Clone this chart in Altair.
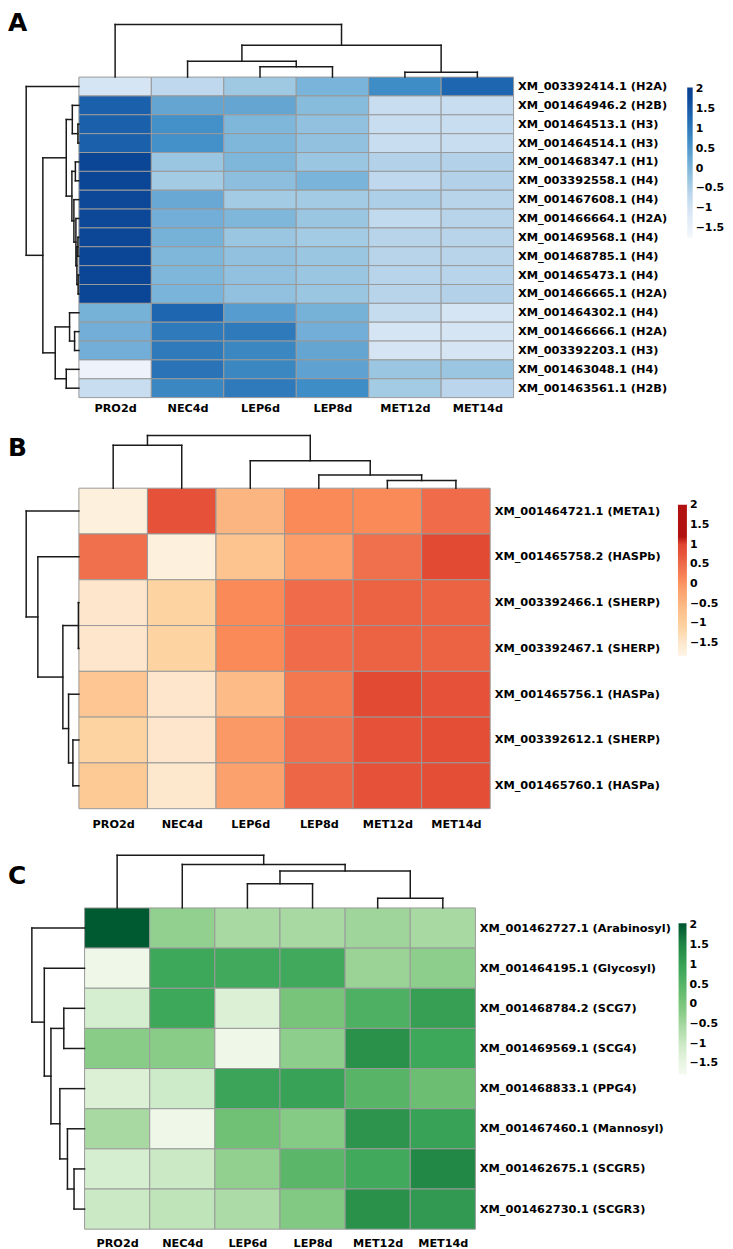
import json
import altair as alt
import pandas as pd

FONT = "DejaVu Sans"

COLS = ["PRO2d", "NEC4d", "LEP6d", "LEP8d", "MET12d", "MET14d"]

# ---------------- Panel A (histones) ----------------
A_ROWS = [
    "XM_003392414.1 (H2A)", "XM_001464946.2 (H2B)", "XM_001464513.1 (H3)",
    "XM_001464514.1 (H3)", "XM_001468347.1 (H1)", "XM_003392558.1 (H4)",
    "XM_001467608.1 (H4)", "XM_001466664.1 (H2A)", "XM_001469568.1 (H4)",
    "XM_001468785.1 (H4)", "XM_001465473.1 (H4)", "XM_001466665.1 (H2A)",
    "XM_001464302.1 (H4)", "XM_001466666.1 (H2A)", "XM_003392203.1 (H3)",
    "XM_001463048.1 (H4)", "XM_001463561.1 (H2B)",
]
A_VALS = [
    [-1.05, -0.70, -0.35, 0.05, 0.70, 1.30],
    [1.40, 0.30, 0.30, -0.10, -0.85, -0.85],
    [1.40, 0.65, 0.00, -0.20, -0.85, -0.85],
    [1.40, 0.65, 0.00, -0.20, -0.85, -0.85],
    [1.85, -0.30, 0.00, -0.30, -0.55, -0.55],
    [1.85, -0.40, -0.15, 0.05, -0.70, -0.55],
    [1.80, 0.25, -0.40, -0.40, -0.50, -0.60],
    [1.80, 0.15, 0.00, -0.30, -0.75, -0.60],
    [1.82, 0.10, -0.30, -0.40, -0.60, -0.60],
    [1.85, 0.00, -0.20, -0.30, -0.60, -0.60],
    [1.85, 0.00, -0.20, -0.30, -0.60, -0.60],
    [1.85, 0.05, -0.20, -0.30, -0.60, -0.55],
    [0.10, 1.30, 0.45, 0.10, -0.80, -1.05],
    [0.15, 1.00, 1.00, 0.15, -1.05, -1.05],
    [0.15, 1.00, 0.80, 0.30, -1.05, -1.05],
    [-1.60, 1.10, 0.80, 0.35, -0.30, -0.30],
    [-0.85, 0.80, 1.00, 0.70, -0.40, -0.65],
]
# merges: [child a, child b, relative height]; ids >= n refer to earlier merges
A_ROW_TREE = [
    [2, 3, 0.019], [1, 17, 0.125], [4, 5, 0.067], [8, 9, 0.019],
    [10, 11, 0.015], [20, 21, 0.038], [7, 22, 0.057], [6, 23, 0.095],
    [19, 24, 0.133], [18, 25, 0.240], [13, 14, 0.082], [12, 27, 0.177],
    [15, 16, 0.240], [28, 29, 0.449], [26, 30, 0.684], [0, 31, 1.0],
]
A_COL_TREE = [[2, 3, 0.194], [4, 5, 0.094], [1, 6, 0.302], [8, 7, 0.604], [0, 9, 1.0]]
A_DOMAIN = [-1.75, -1.6, -1.05, -0.6, -0.3, 0.05, 0.7, 1.3, 1.85, 2.05]
A_RANGE = ["#f3f7fc", "#eef3fb", "#d6e5f4", "#b8d4eb", "#9ac6e1", "#7bb4da",
           "#3f8dc6", "#1f66b0", "#0b4596", "#0a3f8c"]

# ---------------- Panel B ----------------
B_ROWS = [
    "XM_001464721.1 (META1)", "XM_001465758.2 (HASPb)", "XM_003392466.1 (SHERP)",
    "XM_003392467.1 (SHERP)", "XM_001465756.1 (HASPa)", "XM_003392612.1 (SHERP)",
    "XM_001465760.1 (HASPa)",
]
B_VALS = [
    [-1.70, 0.80, -0.50, 0.10, 0.10, 0.50],
    [0.45, -1.70, -0.75, -0.10, 0.45, 0.90],
    [-1.45, -1.10, 0.10, 0.50, 0.60, 0.60],
    [-1.45, -1.10, 0.10, 0.50, 0.60, 0.60],
    [-0.80, -1.45, -0.60, 0.35, 0.90, 0.80],
    [-1.10, -1.45, -0.05, 0.45, 0.80, 0.85],
    [-0.85, -1.50, -0.15, 0.55, 0.80, 0.85],
]
B_ROW_TREE = [[2, 3, 0.01], [5, 6, 0.114], [4, 8, 0.196], [7, 9, 0.304], [1, 10, 0.779], [0, 11, 1.0]]
B_COL_TREE = [[4, 5, 0.144], [3, 6, 0.251], [2, 7, 0.519], [0, 1, 0.813], [9, 8, 1.0]]
B_DOMAIN = [-1.82, -1.7, -1.45, -1.1, -0.75, -0.5, -0.1, 0.1, 0.45, 0.9, 1.05, 1.0501, 2.01]
B_RANGE = ["#fef4e4", "#fdf0dc", "#fde6cb", "#fdd4a1", "#fdc490", "#fbb581", "#fb9e6a",
           "#fa8b58", "#f06f4c", "#e34a33", "#de4430", "#b2120f", "#b2120f"]

# ---------------- Panel C ----------------
C_ROWS = [
    "XM_001462727.1 (Arabinosyl)", "XM_001464195.1 (Glycosyl)", "XM_001468784.2 (SCG7)",
    "XM_001469569.1 (SCG4)", "XM_001468833.1 (PPG4)", "XM_001467460.1 (Mannosyl)",
    "XM_001462675.1 (SCGR5)", "XM_001462730.1 (SCGR3)",
]
C_VALS = [
    [2.00, -0.30, -0.55, -0.55, -0.45, -0.55],
    [-1.60, 0.90, 0.85, 0.85, -0.40, -0.25],
    [-1.15, 0.90, -1.25, 0.05, 0.65, 1.05],
    [-0.20, -0.20, -1.60, -0.25, 1.30, 0.90],
    [-1.25, -1.05, 0.95, 1.00, 0.50, 0.20],
    [-0.55, -1.60, 0.15, -0.15, 1.25, 1.00],
    [-1.15, -1.00, -0.30, 0.45, 0.85, 1.50],
    [-1.00, -0.85, -0.60, -0.10, 1.30, 1.15],
]
C_ROW_TREE = [[2, 3, 0.394], [6, 7, 0.20], [5, 9, 0.325], [4, 10, 0.469], [8, 11, 0.638], [1, 12, 0.764], [0, 13, 1.0]]
C_COL_TREE = [[4, 5, 0.183], [2, 3, 0.458], [7, 6, 0.701], [1, 8, 0.826], [0, 9, 1.0]]
C_DOMAIN = [-1.78, -1.6, -1.15, -0.55, -0.2, 0.2, 0.9, 1.3, 1.5, 2.0, 2.05]
C_RANGE = ["#f3faef", "#eef7e8", "#d6eed0", "#a8d9a3", "#89cc88", "#6cbf72",
           "#3da75a", "#2a914b", "#228845", "#005a31", "#00552e"]

LEGEND_VALUES = [2, 1.5, 1, 0.5, 0, -0.5, -1, -1.5]

TREE_PX = 53.0
LETTER_SIZE = 25


def tree_segments(merges, n):
    pos = [i + 0.5 for i in range(n)]
    hgt = [0.0] * n
    segs = []
    for a, b, h in merges:
        pa, pb = pos[a], pos[b]
        segs.append((pa, pb, h, h))
        segs.append((pa, pa, hgt[a], h))
        segs.append((pb, pb, hgt[b], h))
        pos.append((pa + pb) / 2.0)
        hgt.append(h)
    return segs


def panel(letter, rows, vals, row_tree, col_tree, cdom, crange, g):
    n = len(rows)
    col_w, row_h = g["col_w"], g["row_h"]
    xmin = -(g["hm_left"] - 8.0) / col_w
    ymin = -(g["hm_top"] - g["plot_top"]) / row_h
    width = 6 * col_w + g["hm_left"] - 8.0
    height = g["hm_top"] - g["plot_top"] + n * row_h

    cells = pd.DataFrame([
        {"x0": c, "x1": c + 1, "y0": r, "y1": r + 1, "v": vals[r][c]}
        for r in range(n) for c in range(6)
    ])
    kx = TREE_PX / col_w
    ky = TREE_PX / row_h
    segs = []
    for p0, p1, h0, h1 in tree_segments(row_tree, n):
        segs.append({"x0": -h0 * kx, "x1": -h1 * kx, "y0": p0, "y1": p1})
    for p0, p1, h0, h1 in tree_segments(col_tree, 6):
        segs.append({"x0": p0, "x1": p1, "y0": -h0 * ky, "y1": -h1 * ky})
    segs = pd.DataFrame(segs)

    xs = alt.Scale(domain=[xmin, 6], nice=False, zero=False)
    ys = alt.Scale(domain=[ymin, n], nice=False, zero=False, reverse=True)
    x_axis = alt.Axis(
        values=[c + 0.5 for c in range(6)],
        labelExpr=json.dumps(COLS) + "[floor(datum.value)]",
        orient="bottom", grid=False, domain=False, ticks=False, tickSize=0,
        labelPadding=g["xpad"], labelFont=FONT, labelFontSize=11.3,
        labelFontWeight="bold", labelColor="#000000", labelFlush=False,
        labelOverlap=False, labelAngle=0, title=None,
    )
    y_axis = alt.Axis(
        values=[r + 0.5 for r in range(n)],
        labelExpr=json.dumps(rows) + "[floor(datum.value)]",
        orient="right", grid=False, domain=False, ticks=False, tickSize=0,
        labelPadding=4, labelFont=FONT, labelFontSize=11.4, labelLimit=400,
        labelFontWeight="bold", labelColor="#000000", labelFlush=False,
        labelOverlap=False, labelAlign="left", labelBaseline="middle", title=None,
    )
    X = alt.X("x0:Q", scale=xs, axis=x_axis)
    Y = alt.Y("y0:Q", scale=ys, axis=y_axis)

    rect = alt.Chart(cells).mark_rect(stroke="#999999", strokeWidth=1).encode(
        x=X, x2=alt.X2("x1"), y=Y, y2=alt.Y2("y1"),
        color=alt.Color(
            "v:Q",
            scale=alt.Scale(domain=cdom, range=crange, interpolate="rgb", nice=False, zero=False),
            legend=alt.Legend(
                title=None, orient="none", legendX=g["lx"], legendY=g["ly"],
                direction="vertical", gradientLength=g["llen"],
                gradientThickness=g["lthick"], gradientStrokeWidth=0,
                values=LEGEND_VALUES, format=".2~g", labelFont=FONT,
                labelFontSize=11, labelFontWeight="bold", labelColor="#000000",
                labelOffset=3, padding=0, labelOverlap=False,
            ),
        ),
    )
    rules = alt.Chart(segs).mark_rule(color="#1a1a1a", strokeWidth=1.5, strokeCap="square").encode(
        x=X, x2=alt.X2("x1"), y=Y, y2=alt.Y2("y1"),
    )
    return alt.layer(rect, rules).properties(
        width=width, height=height,
        title=alt.TitleParams(
            text=letter, anchor="start", orient="top", frame="group",
            offset=g["toff"], font=FONT, fontSize=LETTER_SIZE,
            fontWeight="bold", color="#000000",
        ),
    )


GA = dict(hm_left=79.3, col_w=72.85, hm_top=74.0, row_h=18.96, plot_top=8.0,
          xpad=4.9, lx=683.0, ly=76.5, llen=151, lthick=5.5, toff=-25)
GB = dict(hm_left=79.3, col_w=68.93, hm_top=486.7, row_h=46.04, plot_top=396.3,
          xpad=9.5, lx=673.7, ly=107.0, llen=152, lthick=9, toff=-63)
GC = dict(hm_left=85.0, col_w=65.5, hm_top=908.5, row_h=40.375, plot_top=809.0,
          xpad=8.7, lx=674.3, ly=115.0, llen=152, lthick=8, toff=-80)

pA = panel("A", A_ROWS, A_VALS, A_ROW_TREE, A_COL_TREE, A_DOMAIN, A_RANGE, GA)
pB = panel("B", B_ROWS, B_VALS, B_ROW_TREE, B_COL_TREE, B_DOMAIN, B_RANGE, GB)
pC = panel("C", C_ROWS, C_VALS, C_ROW_TREE, C_COL_TREE, C_DOMAIN, C_RANGE, GC)

chart = alt.vconcat(pA, pB, pC, spacing=0, bounds="flush").resolve_scale(
    x="independent", y="independent", color="independent"
).resolve_legend(color="independent").properties(
    padding=0, background="white"
).configure(font=FONT).configure_view(stroke="transparent", strokeWidth=0)

chart.save("out.html", embed_options={"renderer": "svg", "actions": False})
